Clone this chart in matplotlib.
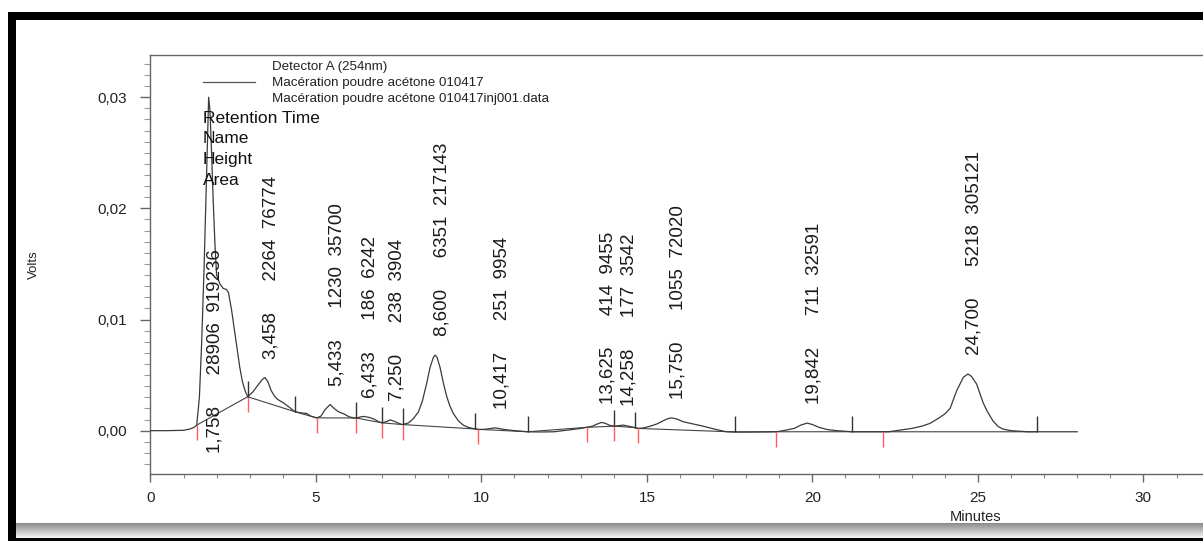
import numpy as np
import matplotlib
matplotlib.use("Agg")
import matplotlib.pyplot as plt
from matplotlib.patches import Rectangle
from matplotlib.lines import Line2D
from matplotlib.ticker import MultipleLocator, FuncFormatter

# ---------------- data ----------------
time_min = [0.0, 0.5, 1.0, 1.2, 1.32, 1.40, 1.48, 1.55, 1.62, 1.68, 1.72, 1.76, 1.80,
            1.85, 1.90, 1.95, 2.00, 2.10, 2.20, 2.30, 2.36, 2.45, 2.55, 2.62, 2.70,
            2.78, 2.86, 2.94, 3.10, 3.25, 3.38, 3.46, 3.55, 3.65, 3.75, 3.85, 4.02,
            4.20, 4.37, 4.55, 4.72, 4.85, 5.02, 5.15, 5.28, 5.43, 5.55, 5.68, 5.85,
            6.00, 6.18, 6.30, 6.43, 6.60, 6.75, 6.90, 7.00, 7.12, 7.25, 7.40, 7.55,
            7.62, 7.80, 7.95, 8.10, 8.22, 8.35, 8.45, 8.55, 8.60, 8.66, 8.75, 8.85,
            8.95, 9.05, 9.15, 9.30, 9.45, 9.60, 9.81, 9.95, 10.10, 10.42, 10.70,
            11.00, 11.40, 11.80, 12.20, 12.60, 13.00, 13.18, 13.35, 13.50, 13.63,
            13.75, 13.90, 14.04, 14.15, 14.29, 14.45, 14.60, 14.74, 14.90, 15.10,
            15.30, 15.50, 15.65, 15.75, 15.90, 16.10, 16.40, 16.70, 16.90, 17.10,
            17.40, 17.70, 18.20, 18.90, 19.02, 19.20, 19.45, 19.65, 19.84, 20.00,
            20.20, 20.45, 20.73, 21.20, 21.80, 22.30, 22.60, 23.00, 23.30, 23.55,
            23.80, 24.00, 24.16, 24.36, 24.56, 24.70, 24.80, 24.96, 25.16, 25.27,
            25.45, 25.60, 25.75, 26.00, 26.50, 27.00, 27.50, 28.00]
volts = [0.0, 0.0, 0.00003, 0.00015, 0.0003, 0.0005, 0.003, 0.008, 0.0145, 0.021,
         0.0255, 0.0300, 0.0288, 0.0248, 0.0205, 0.0168, 0.0140, 0.0132, 0.0128,
         0.0127, 0.0124, 0.0109, 0.0088, 0.0074, 0.0057, 0.0044, 0.0036, 0.00305,
         0.0035, 0.0041, 0.0046, 0.00478, 0.0044, 0.0036, 0.0031, 0.0028, 0.0025,
         0.0021, 0.0017, 0.0016, 0.00155, 0.0013, 0.00115, 0.0013, 0.0019, 0.00235,
         0.0020, 0.0017, 0.0015, 0.00125, 0.00112, 0.0012, 0.00128, 0.0012, 0.00105,
         0.0008, 0.0007, 0.0008, 0.00097, 0.0008, 0.0006, 0.00055, 0.0007, 0.0011,
         0.0017, 0.0027, 0.0043, 0.0057, 0.0066, 0.0068, 0.0066, 0.0057, 0.0043,
         0.0031, 0.0022, 0.00155, 0.0009, 0.0005, 0.0003, 0.00015, 0.0001, 0.00012,
         0.00025, 0.0001, 0.0, -0.0001, -0.00012, -0.0001, 0.00005, 0.0002, 0.0003,
         0.0004, 0.0006, 0.00074, 0.00065, 0.00045, 0.0004, 0.00045, 0.0005, 0.0004,
         0.0003, 0.0002, 0.00025, 0.0004, 0.0006, 0.0009, 0.0011, 0.00115, 0.00105,
         0.0008, 0.0006, 0.0004, 0.00025, 0.0001, -0.0001, -0.00012, -0.00012,
         -0.0001, -0.00005, 0.00005, 0.0002, 0.0005, 0.00068, 0.00055, 0.0003,
         0.0001, 0.0, -0.0001, -0.0001, -0.0001, 0.00003, 0.0002, 0.0004, 0.00065,
         0.0011, 0.0015, 0.0020, 0.0036, 0.0048, 0.0051, 0.0049, 0.0042, 0.0025,
         0.0018, 0.0009, 0.0004, 0.00015, 0.0, -0.0001, -0.0001, -0.0001, -0.0001]

peak_rt = [1.758, 3.458, 5.433, 6.433, 7.250, 8.600, 10.417, 13.625, 14.258,
           15.750, 19.842, 24.700]
peak_height = [28906, 2264, 1230, 186, 238, 6351, 251, 414, 177, 1055, 711, 5218]
peak_area = [919236, 76774, 35700, 6242, 3904, 217143, 9954, 9455, 3542, 72020,
             32591, 305121]
peak_start = [1.40, 2.94, 5.02, 6.21, 7.00, 7.62, 9.89, 13.18, 14.02, 14.74, 18.90, 22.12]
peak_end = [2.94, 4.37, 6.21, 7.00, 7.62, 9.81, 11.40, 14.02, 14.64, 17.66, 21.19, 26.78]

legend_lines = ["Detector A (254nm)",
                "Macération poudre acétone 010417",
                "Macération poudre acétone 010417inj001.data"]
label_fields = ["Retention Time", "Name", "Height", "Area"]
x_label = "Minutes"
y_label = "Volts"

# ---------------- layout ----------------
plt.rcParams['font.family'] = ['Liberation Sans', 'DejaVu Sans']
W, H = 1203, 541
fig = plt.figure(figsize=(W / 100, H / 100), dpi=100)
fig.patch.set_facecolor('white')


def fx(px):
    return px / W


def fy(py):
    return 1 - py / H


ax_left, ax_top, ax_bottom = 150.4, 55.0, 474.0
px_per_min = 33.1
xmax = 33.0
ymin, ymax = -0.0039, 0.0338
ax = fig.add_axes([fx(ax_left), fy(ax_bottom), px_per_min * xmax / W,
                   (ax_bottom - ax_top) / H])
ax.set_xlim(0, xmax)
ax.set_ylim(ymin, ymax)

spine_c = '#666666'
for s in ['left', 'bottom', 'top']:
    ax.spines[s].set_color(spine_c)
    ax.spines[s].set_linewidth(1.0)
ax.spines['right'].set_visible(False)

ax.xaxis.set_major_locator(MultipleLocator(5))
ax.xaxis.set_minor_locator(MultipleLocator(1))
ax.yaxis.set_major_locator(MultipleLocator(0.01))
ax.yaxis.set_minor_locator(MultipleLocator(0.001))
ax.xaxis.set_major_formatter(FuncFormatter(lambda v, p: f"{v:g}"))
ax.yaxis.set_major_formatter(FuncFormatter(lambda v, p: f"{v:.2f}".replace('.', ',')))
ax.tick_params(axis='x', which='major', direction='out', length=5.6, width=1,
               color=spine_c, pad=6.5, labelsize=11, labelcolor='#222222')
ax.tick_params(axis='x', which='minor', direction='out', length=3.0, width=0.8,
               color='#888888')
ax.tick_params(axis='y', which='major', direction='out', length=7.5, width=1,
               color=spine_c, pad=9.0, labelsize=11, labelcolor='#222222')
ax.tick_params(axis='y', which='minor', direction='out', length=4.0, width=0.8,
               color='#999999')

ax.set_xlabel(x_label, fontsize=10.5, color='#222222')
ax.xaxis.set_label_coords((976 - ax_left) / (px_per_min * xmax), -(510 - ax_bottom) / (ax_bottom - ax_top))
ax.set_ylabel(y_label, fontsize=9.5, color='#222222')
ax.yaxis.set_label_coords((40 - ax_left) / (px_per_min * xmax), 0.5)

# ---------------- trace ----------------
t_arr = np.array(time_min)
v_arr = np.array(volts)
ax.plot(t_arr, v_arr, color='#3a3a3a', lw=0.9, zorder=3)

# integration baseline joining peak start/end points
base_t = np.array(sorted(set(peak_start) | set(peak_end)))
base_v = np.interp(base_t, t_arr, v_arr)
ax.plot(base_t, base_v, color='#444444', lw=0.8, zorder=2)

# start (red, downward) and end (black, upward) markers
vs = np.interp(peak_start, t_arr, v_arr)
ax.vlines(peak_start, vs - 0.00135, vs, colors='#ff5c5c', lw=1.0, zorder=3)
ve = np.interp(peak_end, t_arr, v_arr)
ax.vlines(peak_end, ve, ve + 0.00145, colors='#333333', lw=1.0, zorder=3)

# peak annotations: retention time, (name), height, area
for rt, h, a in zip(peak_rt, peak_height, peak_area):
    apex = float(np.interp(rt, t_arr, v_arr))
    s = f"{rt:.3f}".replace('.', ',') + "      " + f"{h}  {a}"
    if apex + 0.019 > ymax:
        xy, off = (rt, 0.0), (4.7, -16.0)
    else:
        xy, off = (rt, apex), (4.7, 13.5)
    ax.annotate(s, xy=xy, xytext=off, textcoords='offset points', rotation=90,
                ha='center', va='bottom', fontsize=13.5, color='#1a1a1a',
                annotation_clip=False, zorder=4)

# ---------------- legend block ----------------
fig.add_artist(Line2D([fx(203), fx(255)], [fy(82.3), fy(82.3)], color='#555555', lw=0.9))
for i, s in enumerate(legend_lines):
    fig.text(fx(272), fy(66.7 + 16 * i), s, fontsize=9.6, va='center', ha='left',
             color='#222222')
for i, s in enumerate(label_fields):
    fig.text(fx(203), fy(118.3 + 20.6 * i), s, fontsize=12.5, va='center', ha='left',
             color='#111111')

# ---------------- window frame decoration ----------------
fig.add_artist(Rectangle((fx(8), fy(20)), 1, (20 - 12) / H, transform=fig.transFigure,
                         facecolor='black', edgecolor='none'))
fig.add_artist(Rectangle((fx(8), 0), (16 - 8) / W, fy(12), transform=fig.transFigure,
                         facecolor='black', edgecolor='none'))
n = 15
for i in range(n):
    g = 0.55 + 0.40 * i / (n - 1)
    fig.add_artist(Rectangle((fx(16), fy(524 + i)), 1, 1 / H, transform=fig.transFigure,
                             facecolor=(g, g, g), edgecolor='none'))
fig.add_artist(Rectangle((fx(8), 0), 1, (541 - 538) / H, transform=fig.transFigure,
                         facecolor='black', edgecolor='none'))

fig.savefig("out.png", dpi=100)
